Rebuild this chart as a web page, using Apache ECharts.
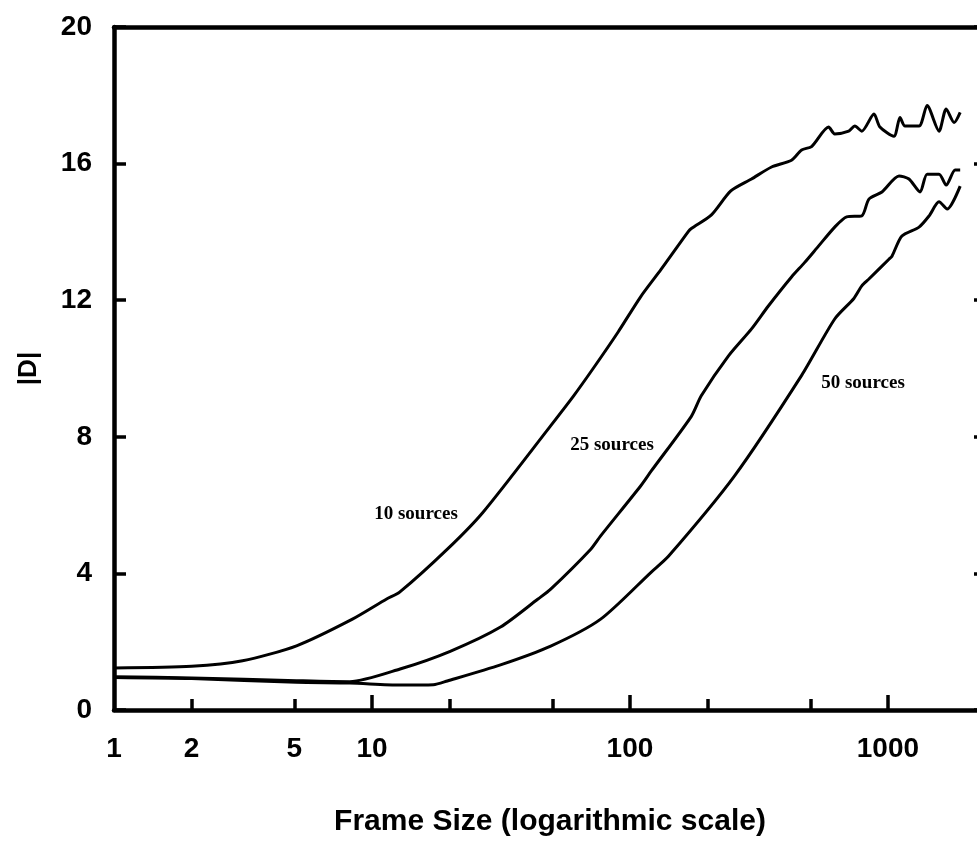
<!DOCTYPE html>
<html lang="en">
<head>
    <meta charset="UTF-8">
    <title>|D| vs frame size</title>
    <script src="https://cdn.jsdelivr.net/npm/echarts@6/dist/echarts.min.js"></script>
    <style>
        html, body {
            margin: 0;
            height: 100%;
            background: #fff;
        }
    </style>
</head>
<body>
<div id="main" style="width: 977px;height: 841px"></div>
<script>
    // [frame size, |D|]
    var src10 = [[1, 1.23], [2, 1.28], [3.15, 1.44], [5.1, 1.88], [8.4, 2.66], [11.4, 3.25], [12.8, 3.45],
        [19.6, 4.71], [27, 5.8], [49, 8.3], [60.5, 9.2], [72, 10.0], [90, 11.07], [110, 12.1], [132, 12.9],
        [168, 14.0], [173, 14.1], [207, 14.5], [246, 15.2], [296, 15.55], [354, 15.9], [423, 16.1],
        [463, 16.4], [506, 16.5], [589, 17.07], [622, 16.87], [705, 16.95], [744, 17.1], [792, 16.95],
        [883, 17.45], [931, 17.07], [1055, 16.8], [1114, 17.35], [1165, 17.1], [1320, 17.1], [1419, 17.7],
        [1578, 16.95], [1682, 17.6], [1806, 17.2], [1906, 17.5]];
    var src25 = [[1, 0.97], [2, 0.94], [5.1, 0.86], [8.2, 0.83], [12.85, 1.2], [20.1, 1.72], [31.5, 2.43],
        [44, 3.25], [49.3, 3.54], [70.5, 4.71], [77, 5.1], [110, 6.56], [121, 7.0], [173, 8.6], [189, 9.2],
        [241, 10.37], [296, 11.16], [344, 11.83], [423, 12.68], [475, 13.1], [539, 13.59], [622, 14.14],
        [692, 14.44], [792, 14.47], [844, 14.96], [948, 15.17], [1104, 15.64], [1207, 15.55], [1333, 15.17],
        [1419, 15.69], [1578, 15.69], [1682, 15.37], [1822, 15.81], [1906, 15.81]];
    var src50 = [[1, 0.95], [2, 0.92], [5.1, 0.81], [8.2, 0.79], [12.85, 0.73], [17.3, 0.74], [19.6, 0.85],
        [31.5, 1.32], [49.3, 1.87], [77, 2.66], [121, 4.04], [141, 4.5], [254, 6.85], [463, 9.8],
        [622, 11.45], [738, 12.05], [792, 12.42], [844, 12.62], [1009, 13.2], [1037, 13.29], [1133, 13.88],
        [1320, 14.14], [1445, 14.47], [1578, 14.88], [1697, 14.67], [1906, 15.34]];

    var xLabelValues = [1, 2, 5, 10, 100, 1000];
    var xMinorTicks = [2, 5, 20, 50, 200, 500];
    var xMajorTicks = [10, 100, 1000];

    var sans = '"Liberation Sans", Arial, Helvetica, sans-serif';
    var serif = '"Liberation Serif", "Times New Roman", serif';

    var myChart = echarts.init(document.getElementById('main'));

    var lineStyle = {color: '#000', width: 4.5};
    var tickStyle = {color: '#000', width: 3.5};

    // the plot runs a little past the right edge of the picture
    var option = {
        animation: false,
        grid: {left: 114, top: 27, right: -9, bottom: 131, outerBoundsMode: 'none'},
        xAxis: [
            {
                type: 'log',
                min: 1,
                max: 2400,
                position: 'bottom',
                name: 'Frame Size (logarithmic scale)',
                nameLocation: 'middle',
                nameGap: 97,
                nameTextStyle: {fontFamily: sans, fontWeight: 'bold', fontSize: 30, color: '#000'},
                axisLine: {lineStyle: lineStyle},
                axisTick: {inside: true, length: 11, customValues: xMinorTicks, lineStyle: tickStyle},
                axisLabel: {
                    customValues: xLabelValues, margin: 25, fontFamily: sans, fontWeight: 'bold', fontSize: 28, color: '#000',
                    formatter: function (v) {
                        return String(v);
                    }
                },
                splitLine: {show: false}
            },
            {
                type: 'log',
                min: 1,
                max: 2400,
                position: 'bottom',
                offset: 0,
                axisLine: {show: false},
                axisTick: {inside: true, length: 15, customValues: xMajorTicks, lineStyle: tickStyle},
                axisLabel: {show: false},
                splitLine: {show: false}
            },
            {
                type: 'log',
                min: 1,
                max: 2400,
                position: 'top',
                axisLine: {lineStyle: lineStyle},
                axisTick: {show: false},
                axisLabel: {show: false},
                splitLine: {show: false}
            }
        ],
        yAxis: [
            {
                type: 'value',
                min: 0,
                max: 20,
                interval: 4,
                name: '|D|',
                nameLocation: 'middle',
                nameGap: 72,
                nameTextStyle: {fontFamily: sans, fontWeight: 'bold', fontSize: 26, color: '#000'},
                axisLine: {show: true, lineStyle: lineStyle},
                axisTick: {show: true, inside: true, length: 12, lineStyle: tickStyle},
                axisLabel: {margin: 22, fontFamily: sans, fontWeight: 'bold', fontSize: 28, color: '#000'},
                splitLine: {show: false}
            },
            {
                type: 'value',
                min: 0,
                max: 20,
                interval: 4,
                position: 'right',
                axisLine: {show: true, lineStyle: lineStyle},
                axisTick: {show: true, inside: true, length: 12, lineStyle: tickStyle},
                axisLabel: {show: false},
                splitLine: {show: false}
            }
        ],
        series: [
            {name: '10 sources', type: 'line', data: src10},
            {name: '25 sources', type: 'line', data: src25},
            {name: '50 sources', type: 'line', data: src50}
        ].map(function (s) {
            s.showSymbol = false;
            s.smooth = 0.25;
            s.lineStyle = {color: '#000', width: 3};
            return s;
        }),
        graphic: [
            {type: 'text', x: 416, y: 514, style: {text: '10 sources', fontFamily: serif, fontWeight: 'bold', fontSize: 19, fill: '#000', align: 'center', verticalAlign: 'middle'}},
            {type: 'text', x: 612, y: 445, style: {text: '25 sources', fontFamily: serif, fontWeight: 'bold', fontSize: 19, fill: '#000', align: 'center', verticalAlign: 'middle'}},
            {type: 'text', x: 863, y: 383, style: {text: '50 sources', fontFamily: serif, fontWeight: 'bold', fontSize: 19, fill: '#000', align: 'center', verticalAlign: 'middle'}}
        ]
    };

    myChart.setOption(option);
</script>
</body>
</html>
